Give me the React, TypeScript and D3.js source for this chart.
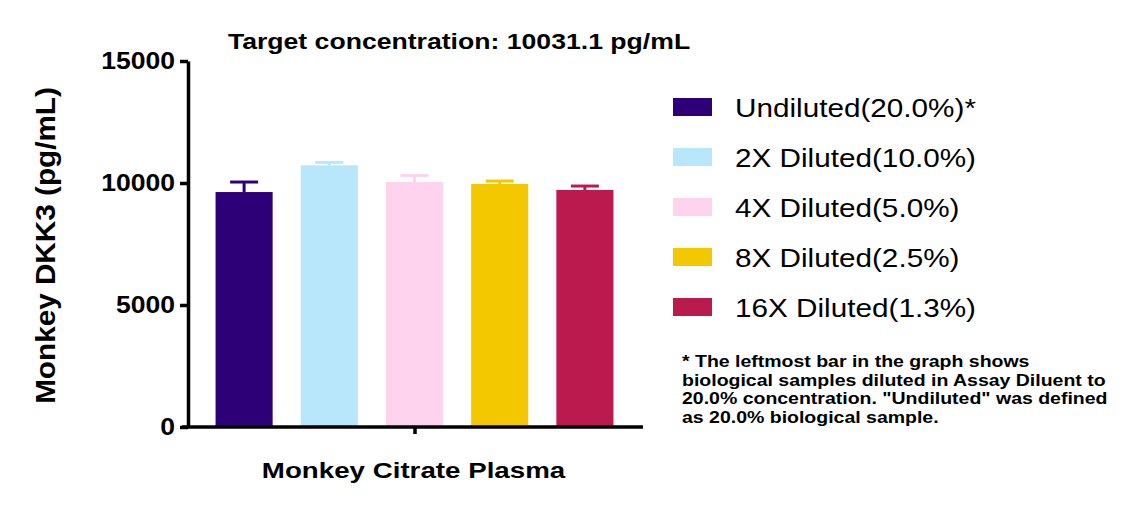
import { useEffect, useRef } from "react";
import * as d3 from "d3";

const categories = [
  "Undiluted(20.0%)*",
  "2X Diluted(10.0%)",
  "4X Diluted(5.0%)",
  "8X Diluted(2.5%)",
  "16X Diluted(1.3%)",
];
const means = [9630, 10725, 10040, 9960, 9715];
const errors = [410, 120, 270, 120, 160];
const colors = ["#2E0078", "#B8E6FA", "#FDD3EE", "#F3C800", "#BA1A4E"];
const yTicks = [0, 5000, 10000, 15000];
const footnote = [
  "* The leftmost bar in the graph shows",
  "biological samples diluted in Assay Diluent to",
  "20.0% concentration. \"Undiluted\" was defined",
  "as 20.0% biological sample.",
];

const FONT = "'Liberation Sans', Arial, sans-serif";
// the source picture's lettering is wider than Liberation Sans
const STRETCH = 1.16;

export default function App() {
  const svgRef = useRef<SVGSVGElement>(null);

  useEffect(() => {
    if (!svgRef.current) return;
    const width = 1135;
    const height = 507;

    d3.select(svgRef.current).selectAll("*").remove();
    const svg = d3
      .select(svgRef.current)
      .attr("width", width)
      .attr("height", height)
      .attr("viewBox", `0 0 ${width} ${height}`)
      .style("font-family", FONT);

    svg.append("rect").attr("width", width).attr("height", height).attr("fill", "#fff");

    const x = d3
      .scaleBand<string>()
      .domain(categories)
      .range([201.5, 627.5])
      .paddingInner(0.33)
      .paddingOuter(0.165);

    const y = d3.scaleLinear().domain([0, 15000]).range([427, 61]);

    // bars
    svg
      .append("g")
      .selectAll("rect")
      .data(categories)
      .join("rect")
      .attr("x", (d) => x(d)!)
      .attr("y", (_, i) => y(means[i]))
      .attr("width", x.bandwidth())
      .attr("height", (_, i) => y(0) - y(means[i]))
      .attr("fill", (_, i) => colors[i]);

    // upper error bars
    const err = svg.append("g");
    categories.forEach((c, i) => {
      const cx = x(c)! + x.bandwidth() / 2;
      const top = y(means[i] + errors[i]);
      err
        .append("line")
        .attr("x1", cx)
        .attr("x2", cx)
        .attr("y1", y(means[i]))
        .attr("y2", top)
        .attr("stroke", colors[i])
        .attr("stroke-width", 3);
      err
        .append("line")
        .attr("x1", cx - 14)
        .attr("x2", cx + 14)
        .attr("y1", top)
        .attr("y2", top)
        .attr("stroke", colors[i])
        .attr("stroke-width", 3);
    });

    // y axis
    const yAxis = svg
      .append("g")
      .attr("transform", "translate(188,0)")
      .call(d3.axisLeft(y).tickValues(yTicks).tickSize(8).tickSizeOuter(0).tickFormat(() => ""));
    yAxis.select(".domain").attr("stroke", "#000").attr("stroke-width", 3.5);
    yAxis.selectAll(".tick line").attr("stroke", "#000").attr("stroke-width", 3.5);

    svg
      .append("g")
      .selectAll("text")
      .data(yTicks)
      .join("text")
      .attr("transform", (d) => `translate(175,${y(d)}) scale(1.13,1)`)
      .attr("dy", "0.36em")
      .attr("text-anchor", "end")
      .style("font-size", "23.5px")
      .style("font-weight", "bold")
      .text((d) => d3.format("d")(d));

    // x axis
    svg
      .append("line")
      .attr("x1", 182)
      .attr("x2", 643)
      .attr("y1", y(0))
      .attr("y2", y(0))
      .attr("stroke", "#000")
      .attr("stroke-width", 3.5);
    svg
      .append("line")
      .attr("x1", 415)
      .attr("x2", 415)
      .attr("y1", y(0))
      .attr("y2", y(0) + 7)
      .attr("stroke", "#000")
      .attr("stroke-width", 3.5);

    svg
      .append("text")
      .attr("transform", "translate(413.5,478) scale(1.26,1)")
      .attr("text-anchor", "middle")
      .style("font-size", "22px")
      .style("font-weight", "bold")
      .text("Monkey Citrate Plasma");

    svg
      .append("text")
      .attr("transform", "translate(55,245.5) rotate(-90) scale(1.1,1)")
      .attr("text-anchor", "middle")
      .style("font-size", "27px")
      .style("font-weight", "bold")
      .text("Monkey DKK3 (pg/mL)");

    svg
      .append("text")
      .attr("transform", "translate(459,49) scale(1.21,1)")
      .attr("text-anchor", "middle")
      .style("font-size", "22px")
      .style("font-weight", "bold")
      .text("Target concentration: 10031.1 pg/mL");

    // legend
    const legend = svg.append("g");
    categories.forEach((c, i) => {
      const ly = 98 + i * 50;
      legend
        .append("rect")
        .attr("x", 673)
        .attr("y", ly)
        .attr("width", 39)
        .attr("height", 18)
        .attr("fill", colors[i]);
      legend
        .append("text")
        .attr("transform", `translate(735,${ly + 19}) scale(${STRETCH},1)`)
        .style("font-size", "25.6px")
        .text(c);
    });

    // footnote
    const fn = svg
      .append("text")
      .attr("transform", `translate(682,0) scale(${STRETCH},1)`)
      .style("font-size", "16.8px")
      .style("font-weight", "bold");
    footnote.forEach((line, i) => {
      fn.append("tspan")
        .attr("x", 0)
        .attr("y", 367 + i * 18.7)
        .text(line);
    });
  }, []);

  return <svg ref={svgRef} style={{ position: "absolute", left: 0, top: 0 }} />;
}
